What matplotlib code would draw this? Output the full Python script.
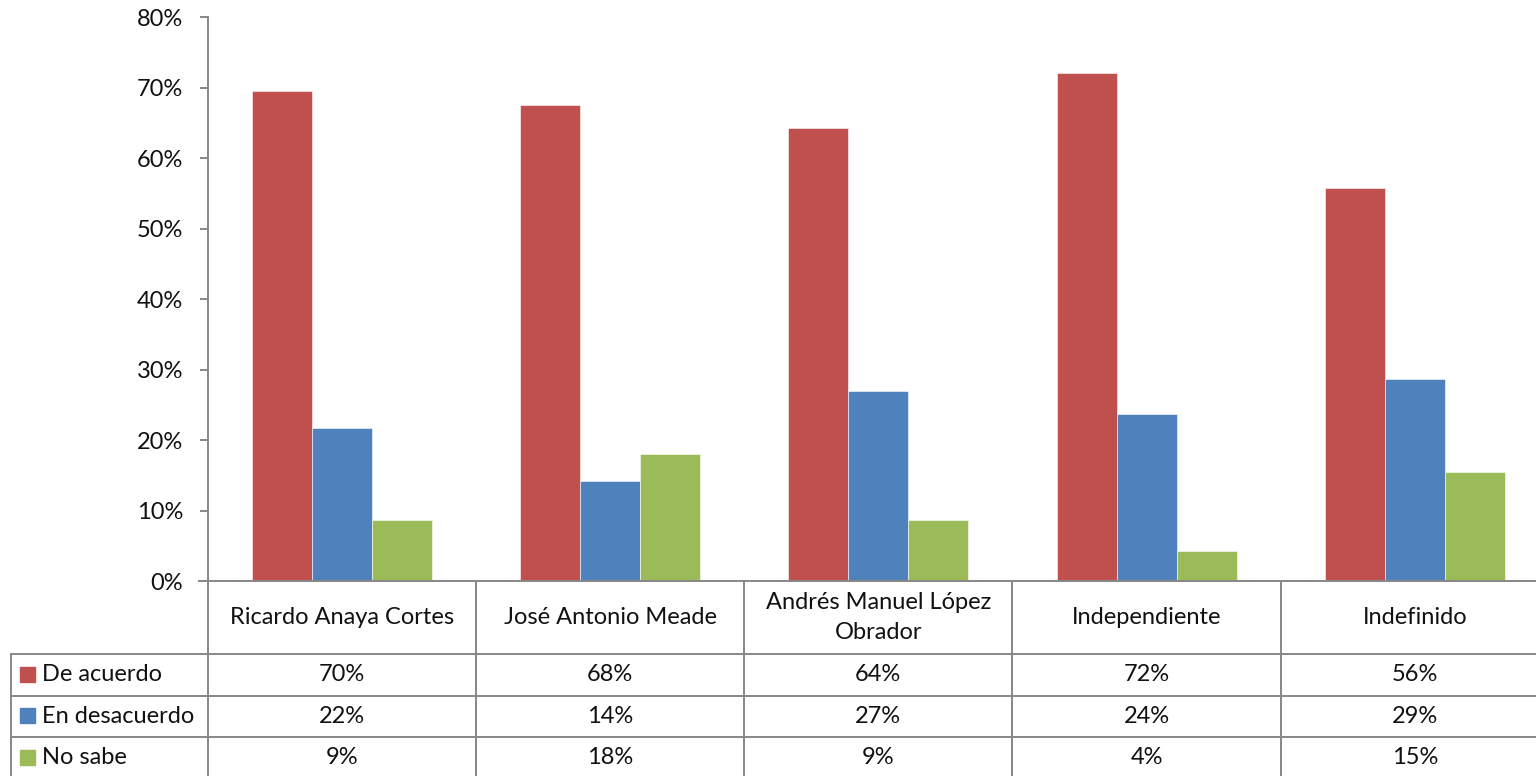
import matplotlib.pyplot as plt
from matplotlib.lines import Line2D
from matplotlib.patches import Rectangle
import numpy as np

# === DATA ===
categorias = ['Ricardo Anaya Cortes', 'José Antonio Meade',
              'Andrés Manuel López\nObrador', 'Independiente', 'Indefinido']
series = ['De acuerdo', 'En desacuerdo', 'No sabe']
de_acuerdo = [69.5, 67.6, 64.3, 72.1, 55.8]
en_desacuerdo = [21.7, 14.2, 27.0, 23.7, 28.7]
no_sabe = [8.7, 18.0, 8.7, 4.2, 15.4]
colores = ['#C0504D', '#4F81BD', '#9BBB59']
yticks = [0, 10, 20, 30, 40, 50, 60, 70, 80]

plt.rcParams['font.family'] = ['Lato', 'DejaVu Sans']
W, H = 1536, 776
fig = plt.figure(figsize=(W / 100, H / 100), dpi=100)

def fx(x):
    return x / W

def fy(y):
    return 1 - y / H

# plot area in pixels (the chart is cut off a bit on the right)
x0, x1 = 207.7, 1549
y_top, y_axis = 17.3, 581
ax = fig.add_axes([fx(x0), fy(y_axis), fx(x1) - fx(x0), fy(y_top) - fy(y_axis)])

grey = '#878787'
fs = 17
txt = '#111111'
n = len(categorias)
x = np.arange(n)
cat_w = (x1 - x0) / n
w = 60 / cat_w
valores = [de_acuerdo, en_desacuerdo, no_sabe]
for i, vals in enumerate(valores):
    ax.bar(x + (i - 1) * w, vals, width=w, color=colores[i],
           edgecolor='white', linewidth=0.4, zorder=2)

ax.set_xlim(-0.5, n - 0.5)
ax.set_ylim(0, 80)
ax.set_yticks(yticks)
ax.set_yticklabels([f'{t}%' for t in yticks], fontsize=fs, color=txt)
# tick length / pad in points (px * 0.72)
ax.tick_params(axis='y', length=5.8, color=grey, width=1.4, pad=12)
ax.set_xticks([])
for s in ['top', 'right', 'bottom']:
    ax.spines[s].set_visible(False)
ax.spines['left'].set_color(grey)
ax.spines['left'].set_linewidth(1.4)

# === DATA TABLE ===
row_lines = [654, 695.5, 737, 778.5]
lkw = dict(color=grey, linewidth=1.4)

# x axis line (incl. 0% tick)
fig.add_artist(Line2D([fx(199), fx(x1)], [fy(y_axis), fy(y_axis)], **lkw))
# vertical lines
for k in range(n + 1):
    xv = x0 + k * cat_w
    fig.add_artist(Line2D([fx(xv), fx(xv)], [fy(y_axis), fy(row_lines[-1])], **lkw))
fig.add_artist(Line2D([fx(11), fx(11)], [fy(row_lines[0]), fy(row_lines[-1])], **lkw))
# horizontal lines
for yl in row_lines:
    fig.add_artist(Line2D([fx(11), fx(x1)], [fy(yl), fy(yl)], **lkw))

# header (categories)
for k, c in enumerate(categorias):
    fig.text(fx(x0 + (k + 0.5) * cat_w), fy((y_axis + row_lines[0]) / 2), c,
             ha='center', va='center', fontsize=fs, color=txt,
             linespacing=1.5)

# rows
for i, (s, vals) in enumerate(zip(series, valores)):
    yc = (row_lines[i] + row_lines[i + 1]) / 2
    fig.add_artist(Rectangle((fx(20), fy(yc + 7)), fx(15), 15 / H,
                             color=colores[i]))
    fig.text(fx(42), fy(yc), s, ha='left', va='center', fontsize=fs,
             color=txt)
    for k, v in enumerate(vals):
        fig.text(fx(x0 + (k + 0.5) * cat_w), fy(yc), f'{v:.0f}%',
                 ha='center', va='center', fontsize=fs, color=txt)

fig.savefig('out.png', dpi=100)
